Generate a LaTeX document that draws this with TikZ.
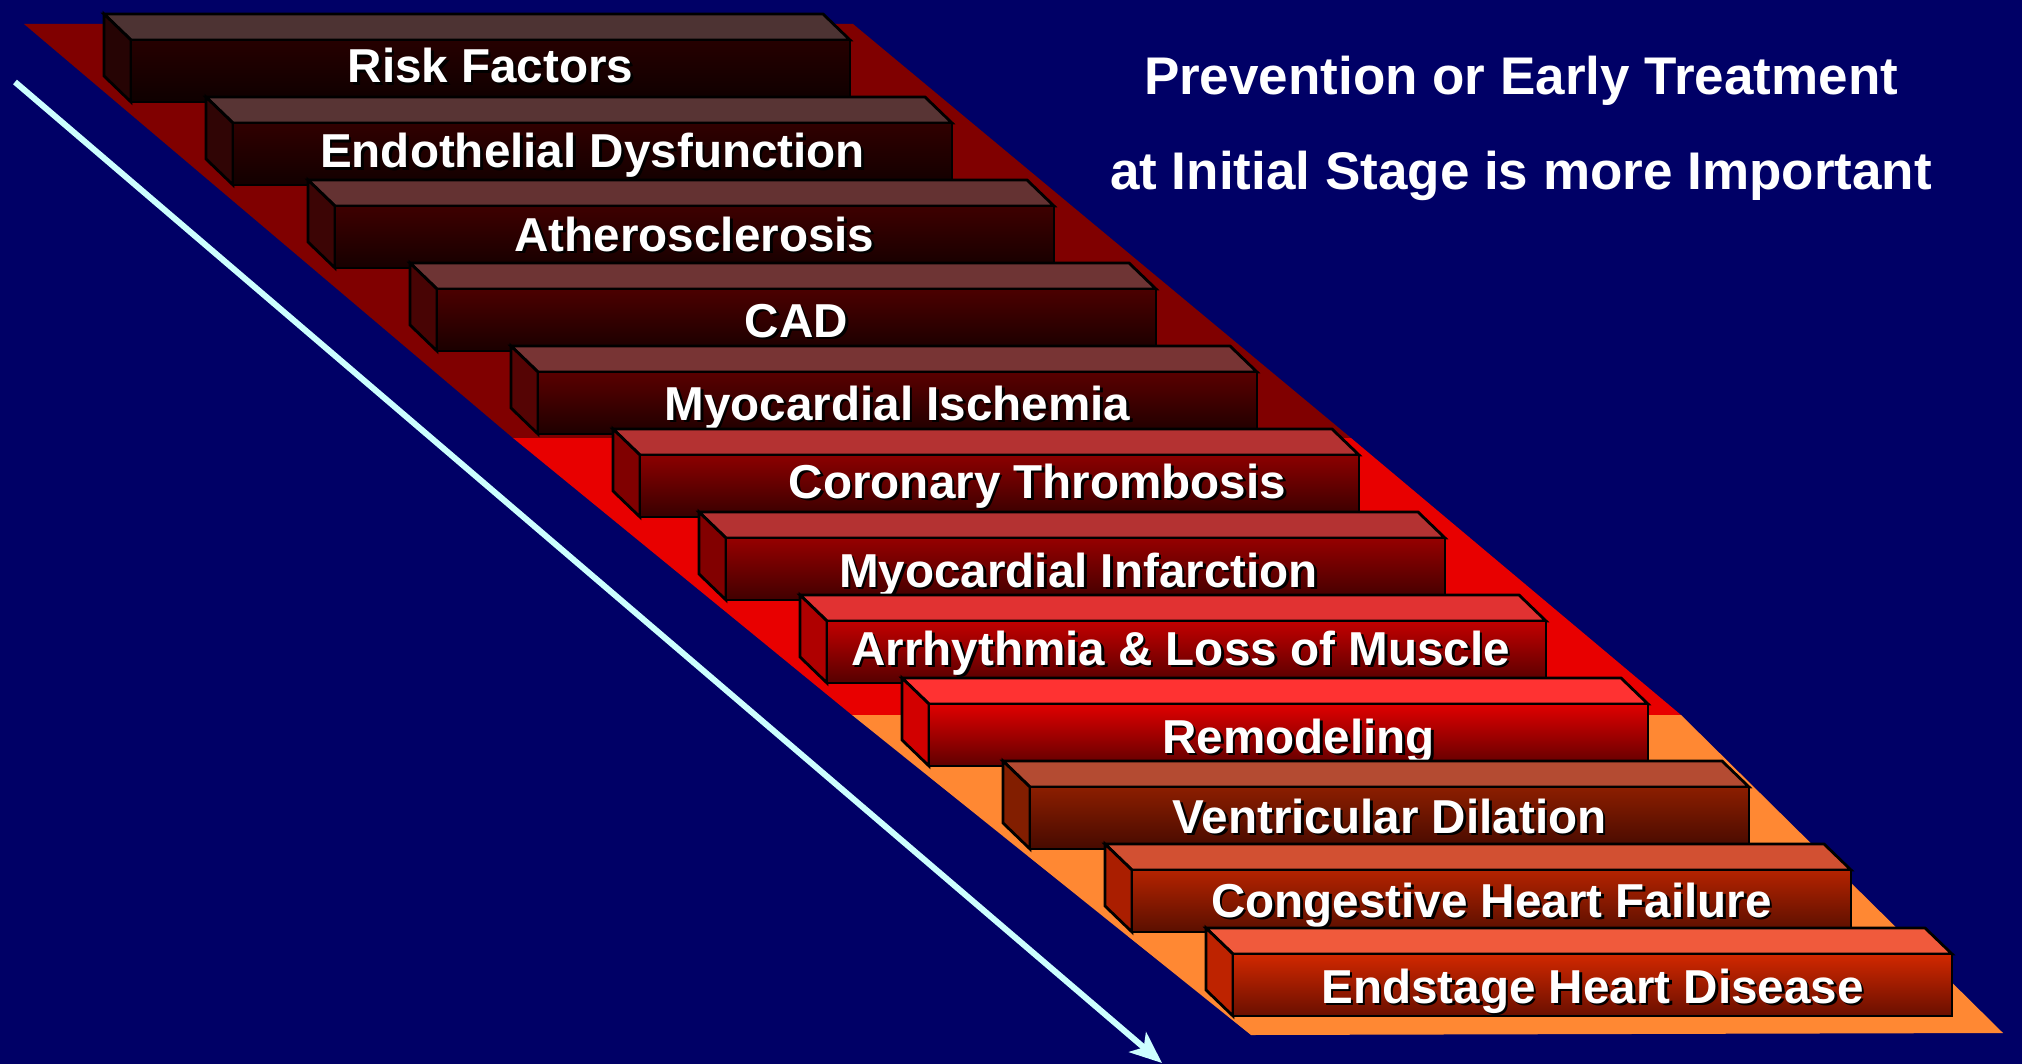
\documentclass[tikz,border=0pt]{standalone}
\usepackage{fontspec}
\setmainfont{Liberation Sans}
\usetikzlibrary{arrows.meta}
\definecolor{bgnavy}{RGB}{0,0,102}
\definecolor{banddark}{RGB}{128,0,0}
\definecolor{bandred}{RGB}{232,0,0}
\definecolor{bandorange}{RGB}{255,136,51}
\definecolor{arrowcyan}{RGB}{204,255,255}

\tikzset{
  boxline/.style={draw=black, line width=1.4pt, line join=miter},
  stagetext/.style={font=\fontsize{23.8}{28}\selectfont\bfseries, text=white, inner sep=0pt, anchor=base},
  stageshadow/.style={stagetext, text=black},
  headtext/.style={font=\fontsize{26.5}{32}\selectfont\bfseries, text=white, inner sep=0pt, anchor=base},
  flowarrow/.style={draw=arrowcyan, line width=3pt, -{Stealth[length=16pt,width=13pt,inset=4pt]}},
}

% #1 name, #2 x, #3 y, #4 top rgb, #5 side rgb, #6 front top rgb, #7 front bottom rgb, #8 text, #9 text position
\newcommand\stagebox[9]{%
  \definecolor{#1top}{RGB}{#4}%
  \definecolor{#1side}{RGB}{#5}%
  \definecolor{#1ft}{RGB}{#6}%
  \definecolor{#1fb}{RGB}{#7}%
  \begin{scope}[shift={(#2,#3)}]
    \filldraw[boxline, fill=#1top] (0,0) -- (719,0) -- (746,26) -- (27,26) -- cycle;
    \filldraw[boxline, fill=#1side] (0,0) -- (27,26) -- (27,88) -- (0,62) -- cycle;
    \shade[top color=#1ft, bottom color=#1fb] (27,26) rectangle (746,88);
    \draw[boxline] (27,26) rectangle (746,88);
    \node[stageshadow, xshift=1.3pt, yshift=-1.3pt] (#1-sh) at (#9) {#8};
    \node[stagetext] (#1) at (#9) {#8};
  \end{scope}}

\begin{document}
\begin{tikzpicture}[x=0.5pt, y=-0.5pt]
  \useasboundingbox (0,0) rectangle (2022,1064);
  \fill[bgnavy] (0,0) rectangle (2022,1064);

  % band
  \fill[banddark] (24,24) -- (853,24) -- (1351,438) -- (513,438) -- cycle;
  \fill[bandred] (513,438) -- (1351,438) -- (1681,715) -- (852,715) -- cycle;
  \fill[bandorange] (852,715) -- (1681,715) -- (2003,1033) -- (1251,1035) -- cycle;

  % arrow
  \coordinate (arrS) at (15,82);
  \coordinate (arrE) at (1162,1063);
  \draw[flowarrow] (arrS) -- (arrE);

  % heading
  \node[headtext] (head1) at (1521,95) {Prevention or Early Treatment};
  \node[headtext] (head2) at (1521,190) {at Initial Stage is more Important};

  % stages
  \stagebox{s1}{104}{14}{77,51,51}{38,4,4}{38,0,0}{14,0,0}{Risk Factors}{386.5,69}
  \stagebox{s2}{206}{97}{88,52,52}{48,5,5}{48,0,0}{18,0,0}{Endothelial Dysfunction}{386.5,71}
  \stagebox{s3}{308}{180}{100,50,50}{60,5,5}{62,0,0}{22,0,0}{Atherosclerosis}{386.5,71}
  \stagebox{s4}{410}{263}{110,52,52}{72,4,4}{75,0,0}{26,0,0}{CAD}{386.5,74}
  \stagebox{s5}{511}{346}{120,52,52}{85,4,4}{90,0,0}{30,0,0}{Myocardial Ischemia}{386.5,74}
  \stagebox{s6}{613}{429}{180,50,50}{128,0,0}{140,0,0}{55,0,0}{Coronary Thrombosis}{424.5,69}
  \stagebox{s7}{699}{512}{180,50,50}{130,0,0}{150,0,0}{65,0,0}{Myocardial Infarction}{379.5,75}
  \stagebox{s8}{800}{595}{225,50,50}{175,0,0}{195,0,0}{85,0,0}{Arrhythmia \& Loss of Muscle}{380.5,70}
  \stagebox{s9}{902}{678}{255,50,50}{210,0,0}{225,0,0}{95,0,0}{Remodeling}{396.5,75}
  \stagebox{s10}{1003}{761}{180,75,50}{130,30,0}{140,30,0}{70,10,0}{Ventricular Dilation}{386.5,72}
  \stagebox{s11}{1105}{844}{210,80,50}{170,30,0}{180,35,0}{90,15,0}{Congestive Heart Failure}{386.5,73}
  \stagebox{s12}{1206}{928}{240,90,60}{190,35,0}{210,40,0}{105,15,0}{Endstage Heart Disease}{386.5,75}
\end{tikzpicture}
\end{document}
